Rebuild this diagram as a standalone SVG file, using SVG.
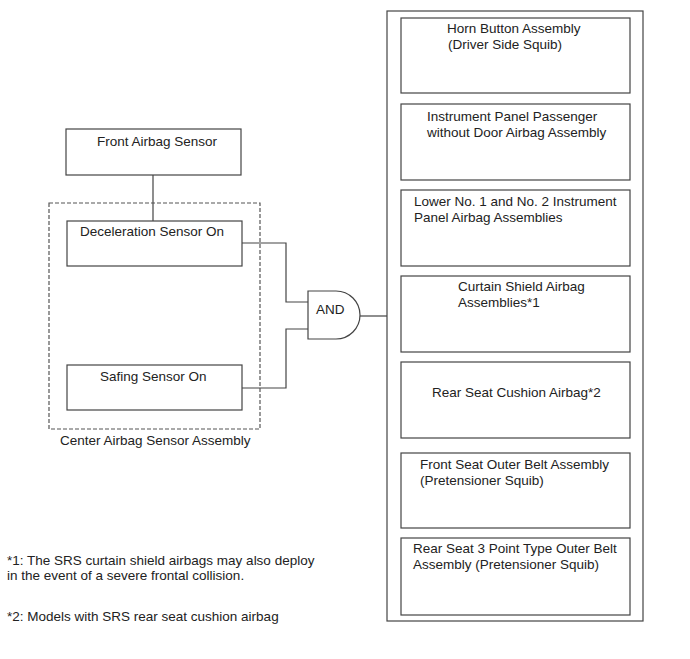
<svg xmlns="http://www.w3.org/2000/svg" width="690" height="659" viewBox="0 0 690 659">
<style>
.b{fill:#fff;stroke:#444;stroke-width:1.2}
.w{fill:none;stroke:#444;stroke-width:1.2}
.d{fill:none;stroke:#555;stroke-width:1.2;stroke-dasharray:4 2}
text{font-family:"Liberation Sans",Arial,sans-serif;font-size:13.5px;fill:#222}
</style>
<rect width="690" height="659" fill="#fff"/>
<g id="connectors">
<path class="w" d="M153 175V221"/>
<path class="w" d="M242 243H286V302H308"/>
<path class="w" d="M242 388H286V329H308"/>
<path class="w" d="M360 316H387"/>
</g>
<g id="center-assembly">
<rect class="d" x="49" y="203" width="211" height="226"/>
<text x="60" y="445">Center Airbag Sensor Assembly</text>
</g>
<g id="front-sensor">
<rect class="b" x="66" y="129" width="175" height="46"/>
<text x="97" y="146">Front Airbag Sensor</text>
</g>
<g id="decel">
<rect class="b" x="67" y="221" width="175" height="45"/>
<text x="80" y="236">Deceleration Sensor On</text>
</g>
<g id="safing">
<rect class="b" x="67" y="365" width="175" height="45"/>
<text x="100" y="381">Safing Sensor On</text>
</g>
<g id="and-gate">
<path class="b" d="M308 291H336A24 24 0 0 1 336 339H308Z"/>
<text x="316" y="314">AND</text>
</g>
<g id="outputs">
<rect class="b" x="387" y="11" width="256" height="610"/>
</g>
<g id="horn">
<rect class="b" x="401" y="18" width="229" height="75"/>
<text x="447" y="33">Horn Button Assembly</text>
<text x="448" y="49">(Driver Side Squib)</text>
</g>
<g id="ip-passenger">
<rect class="b" x="401" y="104" width="229" height="76"/>
<text x="427" y="121">Instrument Panel Passenger</text>
<text x="427" y="137">without Door Airbag Assembly</text>
</g>
<g id="lower-ip">
<rect class="b" x="401" y="190" width="229" height="76"/>
<text x="414" y="206">Lower No. 1 and No. 2 Instrument</text>
<text x="414" y="222">Panel Airbag Assemblies</text>
</g>
<g id="curtain">
<rect class="b" x="401" y="276" width="229" height="76"/>
<text x="458" y="291">Curtain Shield Airbag</text>
<text x="458" y="307">Assemblies*1</text>
</g>
<g id="rear-cushion">
<rect class="b" x="401" y="362" width="229" height="76"/>
<text x="432" y="397">Rear Seat Cushion Airbag*2</text>
</g>
<g id="front-belt">
<rect class="b" x="401" y="453" width="229" height="75"/>
<text x="420" y="469">Front Seat Outer Belt Assembly</text>
<text x="420" y="485">(Pretensioner Squib)</text>
</g>
<g id="rear-belt">
<rect class="b" x="401" y="538" width="229" height="77"/>
<text x="413" y="553">Rear Seat 3 Point Type Outer Belt</text>
<text x="413" y="569">Assembly (Pretensioner Squib)</text>
</g>
<g id="notes">
<text x="7" y="565">*1: The SRS curtain shield airbags may also deploy</text>
<text x="7" y="580">in the event of a severe frontal collision.</text>
<text x="7" y="621">*2: Models with SRS rear seat cushion airbag</text>
</g>
</svg>
